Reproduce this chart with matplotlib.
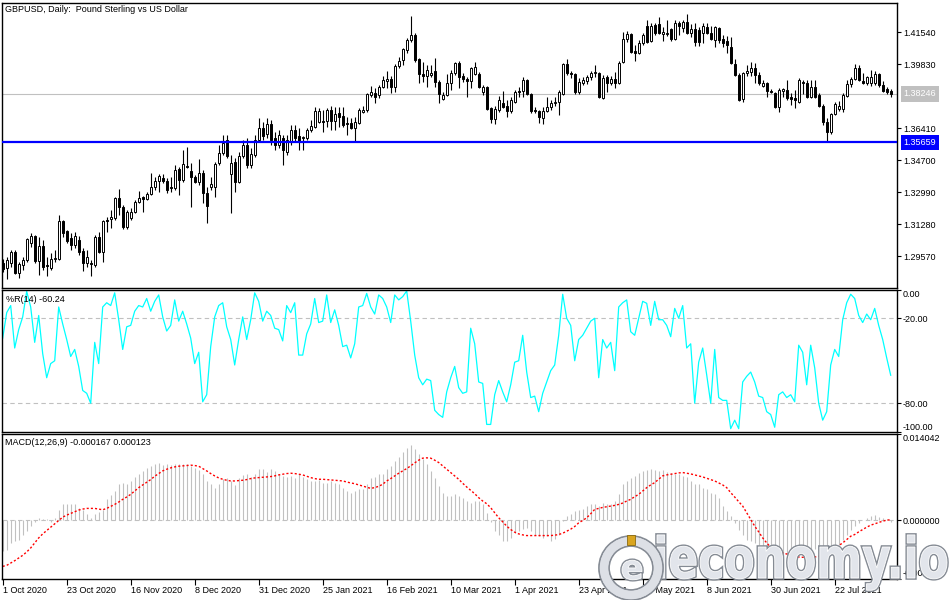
import matplotlib
matplotlib.use('Agg')
import matplotlib.pyplot as plt
import matplotlib.patheffects as pe
import numpy as np
from matplotlib.textpath import TextPath
from matplotlib.font_manager import FontProperties
from matplotlib.patches import PathPatch, Circle, Rectangle
from matplotlib.transforms import Affine2D, blended_transform_factory

# GBPUSD daily candles, 1 Oct 2020 .. 10 Aug 2021
opens = [1.2920, 1.2893, 1.2920, 1.2979, 1.2866, 1.2909, 1.2936, 1.3027, 1.3064, 1.2931,
         1.3011, 1.2909, 1.2893, 1.2941, 1.2941, 1.3145, 1.3091, 1.3054, 1.3016, 1.3043,
         1.2984, 1.2920, 1.2920, 1.2909, 1.3059, 1.2979, 1.3150, 1.3155, 1.3161, 1.3267,
         1.3219, 1.3112, 1.3161, 1.3193, 1.3246, 1.3273, 1.3262, 1.3289, 1.3326, 1.3358,
         1.3374, 1.3358, 1.3326, 1.3321, 1.3423, 1.3364, 1.3439, 1.3412, 1.3380, 1.3353,
         1.3401, 1.3294, 1.3326, 1.3326, 1.3455, 1.3508, 1.3578, 1.3396, 1.3460, 1.3353,
         1.3492, 1.3551, 1.3444, 1.3498, 1.3578, 1.3642, 1.3610, 1.3663, 1.3588, 1.3551,
         1.3588, 1.3514, 1.3567, 1.3631, 1.3599, 1.3588, 1.3588, 1.3631, 1.3647, 1.3674,
         1.3679, 1.3679, 1.3738, 1.3679, 1.3722, 1.3706, 1.3669, 1.3669, 1.3642, 1.3669,
         1.3728, 1.3738, 1.3819, 1.3829, 1.3819, 1.3861, 1.3893, 1.3904, 1.3861, 1.3974,
         1.4006, 1.4059, 1.4113, 1.4140, 1.4011, 1.3931, 1.3920, 1.3926, 1.3947, 1.3888,
         1.3797, 1.3819, 1.3883, 1.3936, 1.3990, 1.3920, 1.3904, 1.3893, 1.3931, 1.3931,
         1.3835, 1.3861, 1.3749, 1.3690, 1.3738, 1.3776, 1.3760, 1.3733, 1.3781, 1.3840,
         1.3840, 1.3899, 1.3824, 1.3738, 1.3733, 1.3695, 1.3733, 1.3754, 1.3776, 1.3781,
         1.3824, 1.3984, 1.3936, 1.3931, 1.3835, 1.3883, 1.3893, 1.3915, 1.3936, 1.3936,
         1.3802, 1.3915, 1.3883, 1.3904, 1.3883, 1.3995, 1.4118, 1.4145, 1.4054, 1.4043,
         1.4097, 1.4188, 1.4107, 1.4193, 1.4198, 1.4145, 1.4145, 1.4172, 1.4118, 1.4204,
         1.4177, 1.4209, 1.4150, 1.4172, 1.4166, 1.4150, 1.4182, 1.4150, 1.4113, 1.4177,
         1.4118, 1.4107, 1.4075, 1.3984, 1.3926, 1.3797, 1.3936, 1.3942, 1.3963, 1.3926,
         1.3867, 1.3883, 1.3840, 1.3829, 1.3754, 1.3840, 1.3845, 1.3808, 1.3802, 1.3781,
         1.3888, 1.3883, 1.3808, 1.3861, 1.3819, 1.3760, 1.3674, 1.3621, 1.3717, 1.3744,
         1.3744, 1.3813, 1.3877, 1.3904, 1.3963, 1.3893, 1.3883, 1.3883, 1.3883, 1.3931,
         1.3872, 1.3851, 1.3840]
highs = [1.2941, 1.2952, 1.2989, 1.2989, 1.2925, 1.2952, 1.3054, 1.3080, 1.3070, 1.3059,
         1.3043, 1.2952, 1.2973, 1.2989, 1.3177, 1.3150, 1.3096, 1.3080, 1.3086, 1.3064,
         1.3000, 1.2989, 1.2936, 1.3070, 1.3086, 1.3150, 1.3166, 1.3203, 1.3273, 1.3316,
         1.3230, 1.3203, 1.3214, 1.3257, 1.3305, 1.3278, 1.3300, 1.3401, 1.3380, 1.3396,
         1.3396, 1.3374, 1.3380, 1.3444, 1.3433, 1.3524, 1.3540, 1.3455, 1.3391, 1.3476,
         1.3417, 1.3326, 1.3380, 1.3460, 1.3551, 1.3605, 1.3605, 1.3498, 1.3481, 1.3514,
         1.3578, 1.3588, 1.3535, 1.3605, 1.3695, 1.3674, 1.3695, 1.3685, 1.3621, 1.3631,
         1.3605, 1.3605, 1.3658, 1.3658, 1.3642, 1.3599, 1.3642, 1.3685, 1.3754, 1.3749,
         1.3738, 1.3749, 1.3760, 1.3754, 1.3754, 1.3754, 1.3701, 1.3695, 1.3701, 1.3749,
         1.3760, 1.3829, 1.3867, 1.3856, 1.3872, 1.3920, 1.3947, 1.3920, 1.3984, 1.4022,
         1.4070, 1.4123, 1.4241, 1.4150, 1.4016, 1.3995, 1.3979, 1.3979, 1.4016, 1.3899,
         1.3835, 1.3931, 1.3952, 1.3995, 1.4000, 1.3936, 1.3915, 1.3968, 1.3995, 1.3942,
         1.3872, 1.3867, 1.3754, 1.3760, 1.3813, 1.3840, 1.3792, 1.3808, 1.3845, 1.3861,
         1.3915, 1.3904, 1.3829, 1.3754, 1.3738, 1.3754, 1.3808, 1.3792, 1.3808, 1.3845,
         1.3990, 1.4011, 1.3947, 1.3936, 1.3909, 1.3915, 1.3926, 1.3947, 1.3979, 1.3942,
         1.3926, 1.3926, 1.3920, 1.3942, 1.4000, 1.4156, 1.4161, 1.4150, 1.4086, 1.4113,
         1.4150, 1.4220, 1.4204, 1.4204, 1.4236, 1.4182, 1.4220, 1.4177, 1.4220, 1.4214,
         1.4220, 1.4252, 1.4198, 1.4204, 1.4182, 1.4204, 1.4204, 1.4188, 1.4188, 1.4182,
         1.4140, 1.4134, 1.4129, 1.4011, 1.3936, 1.3942, 1.3979, 1.3995, 1.3990, 1.3942,
         1.3899, 1.3888, 1.3851, 1.3835, 1.3856, 1.3856, 1.3899, 1.3829, 1.3845, 1.3909,
         1.3899, 1.3899, 1.3899, 1.3899, 1.3829, 1.3770, 1.3695, 1.3722, 1.3781, 1.3786,
         1.3829, 1.3899, 1.3915, 1.3984, 1.3979, 1.3936, 1.3920, 1.3952, 1.3947, 1.3936,
         1.3893, 1.3861, 1.3851]
lows = [1.2872, 1.2834, 1.2898, 1.2861, 1.2840, 1.2882, 1.2925, 1.3006, 1.2920, 1.2856,
        1.2882, 1.2850, 1.2882, 1.2925, 1.2936, 1.3059, 1.3027, 1.2989, 1.3000, 1.2963,
        1.2877, 1.2898, 1.2850, 1.2898, 1.2973, 1.2925, 1.3086, 1.3107, 1.3150, 1.3177,
        1.3102, 1.3102, 1.3150, 1.3187, 1.3241, 1.3193, 1.3257, 1.3284, 1.3310, 1.3300,
        1.3348, 1.3294, 1.3300, 1.3310, 1.3284, 1.3353, 1.3428, 1.3219, 1.3348, 1.3337,
        1.3241, 1.3134, 1.3310, 1.3273, 1.3444, 1.3498, 1.3481, 1.3187, 1.3300, 1.3348,
        1.3481, 1.3428, 1.3428, 1.3487, 1.3567, 1.3578, 1.3588, 1.3551, 1.3524, 1.3535,
        1.3444, 1.3498, 1.3551, 1.3567, 1.3524, 1.3524, 1.3578, 1.3621, 1.3642, 1.3669,
        1.3621, 1.3647, 1.3631, 1.3631, 1.3647, 1.3647, 1.3605, 1.3637, 1.3566, 1.3663,
        1.3722, 1.3728, 1.3808, 1.3776, 1.3802, 1.3856, 1.3856, 1.3829, 1.3835, 1.3963,
        1.3979, 1.4043, 1.4102, 1.3995, 1.3883, 1.3888, 1.3861, 1.3915, 1.3861, 1.3776,
        1.3792, 1.3813, 1.3845, 1.3926, 1.3856, 1.3888, 1.3808, 1.3856, 1.3926, 1.3856,
        1.3819, 1.3738, 1.3669, 1.3663, 1.3728, 1.3749, 1.3701, 1.3722, 1.3776, 1.3808,
        1.3808, 1.3819, 1.3722, 1.3722, 1.3669, 1.3663, 1.3728, 1.3738, 1.3760, 1.3712,
        1.3819, 1.3926, 1.3909, 1.3824, 1.3824, 1.3872, 1.3877, 1.3899, 1.3915, 1.3802,
        1.3797, 1.3835, 1.3872, 1.3856, 1.3877, 1.3990, 1.4102, 1.4043, 1.4000, 1.4038,
        1.4086, 1.4097, 1.4102, 1.4140, 1.4145, 1.4107, 1.4134, 1.4107, 1.4113, 1.4140,
        1.4156, 1.4145, 1.4129, 1.4081, 1.4081, 1.4097, 1.4145, 1.4113, 1.4075, 1.4097,
        1.4075, 1.4043, 1.3984, 1.3920, 1.3786, 1.3781, 1.3920, 1.3920, 1.3883, 1.3872,
        1.3861, 1.3808, 1.3829, 1.3749, 1.3728, 1.3808, 1.3792, 1.3765, 1.3749, 1.3776,
        1.3824, 1.3802, 1.3802, 1.3802, 1.3754, 1.3658, 1.3566, 1.3610, 1.3712, 1.3733,
        1.3728, 1.3808, 1.3861, 1.3899, 1.3893, 1.3877, 1.3872, 1.3867, 1.3872, 1.3861,
        1.3835, 1.3824, 1.3808]
closes = [1.2888, 1.2936, 1.2979, 1.2866, 1.2915, 1.2936, 1.3048, 1.3064, 1.2931, 1.3011,
          1.2898, 1.2904, 1.2941, 1.2947, 1.3145, 1.3080, 1.3038, 1.3016, 1.3064, 1.2979,
          1.2920, 1.2952, 1.2915, 1.3059, 1.2979, 1.3145, 1.3145, 1.3166, 1.3267, 1.3219,
          1.3112, 1.3193, 1.3193, 1.3246, 1.3267, 1.3262, 1.3289, 1.3326, 1.3358, 1.3385,
          1.3358, 1.3310, 1.3321, 1.3417, 1.3364, 1.3449, 1.3433, 1.3380, 1.3353, 1.3401,
          1.3294, 1.3225, 1.3342, 1.3449, 1.3508, 1.3562, 1.3492, 1.3455, 1.3353, 1.3492,
          1.3551, 1.3444, 1.3503, 1.3578, 1.3642, 1.3599, 1.3663, 1.3578, 1.3551, 1.3605,
          1.3524, 1.3578, 1.3631, 1.3588, 1.3567, 1.3594, 1.3631, 1.3653, 1.3733, 1.3733,
          1.3674, 1.3738, 1.3679, 1.3717, 1.3701, 1.3658, 1.3663, 1.3642, 1.3674, 1.3738,
          1.3738, 1.3824, 1.3835, 1.3808, 1.3861, 1.3899, 1.3904, 1.3861, 1.3974, 1.4000,
          1.4065, 1.4113, 1.4140, 1.4006, 1.3931, 1.3920, 1.3952, 1.3936, 1.3888, 1.3824,
          1.3819, 1.3883, 1.3936, 1.3990, 1.3915, 1.3904, 1.3893, 1.3963, 1.3968, 1.3861,
          1.3861, 1.3744, 1.3690, 1.3744, 1.3792, 1.3754, 1.3733, 1.3792, 1.3835, 1.3835,
          1.3899, 1.3824, 1.3733, 1.3733, 1.3701, 1.3733, 1.3754, 1.3776, 1.3781, 1.3835,
          1.3984, 1.3936, 1.3931, 1.3835, 1.3888, 1.3899, 1.3915, 1.3936, 1.3942, 1.3808,
          1.3909, 1.3883, 1.3904, 1.3883, 1.3990, 1.4118, 1.4145, 1.4049, 1.4043, 1.4097,
          1.4140, 1.4102, 1.4188, 1.4150, 1.4150, 1.4156, 1.4150, 1.4118, 1.4204, 1.4188,
          1.4209, 1.4150, 1.4172, 1.4102, 1.4102, 1.4188, 1.4150, 1.4118, 1.4182, 1.4113,
          1.4097, 1.4086, 1.3990, 1.3926, 1.3792, 1.3936, 1.3947, 1.3963, 1.3926, 1.3883,
          1.3883, 1.3840, 1.3835, 1.3754, 1.3845, 1.3851, 1.3802, 1.3797, 1.3792, 1.3899,
          1.3883, 1.3808, 1.3861, 1.3808, 1.3760, 1.3674, 1.3621, 1.3717, 1.3770, 1.3760,
          1.3819, 1.3877, 1.3904, 1.3963, 1.3899, 1.3883, 1.3915, 1.3915, 1.3931, 1.3872,
          1.3840, 1.3835, 1.38246]

# Williams %R(14)
wpr = [-34, -16, -11, -41, -28, -19, -1, -12, -37, -18,
       -45, -62, -52, -50, -12, -24, -35, -47, -42, -54,
       -71, -73, -80, -37, -52, -12, -9, -11, -2, -21,
       -42, -26, -25, -15, -11, -12, -6, -15, -8, -3.5,
       -19, -29, -25, -7, -22, -15, -24, -34, -52, -44,
       -79, -74, -40, -19, -11, -9, -26, -35, -53, -35,
       -19, -35, -21, -2, -8, -22, -15, -18, -27, -28,
       -36, -11, -16, -9, -46, -46, -31, -24, -6, -23,
       -22, -3.5, -23, -14, -25, -40, -39, -48, -38, -12,
       -11, -2.4, -12, -17, -3.5, -6, -12, -23, -3.5, -7,
       -4.7, -0.7, -22, -46, -62, -67, -63, -64, -85, -88,
       -90, -72, -62, -54, -69, -73, -72, -27, -38, -65,
       -66, -95, -95, -74, -64, -72, -79, -67, -51, -50,
       -32, -58, -76, -75, -86, -73, -65, -57, -53, -32,
       -3, -20, -25, -50, -35, -32, -27, -22, -20, -62,
       -35, -41, -37, -57, -12, -9, -7, -29.5, -32, -20,
       -8, -9.4, -25, -8, -21, -21, -25, -33, -13, -20,
       -11, -41, -38, -80, -51, -41, -60, -80, -42, -76,
       -78, -78, -98, -92, -98, -65, -61, -58, -65, -75,
       -76, -86, -88, -97, -74, -72, -76, -74, -79, -39,
       -44, -67, -39, -55, -80, -92, -86, -53, -42, -47,
       -21, -9, -3, -6, -18, -23, -17, -21, -13, -25,
       -35, -48, -60.24]

# MACD(12,26,9): main (histogram) and signal
macd_main = [-0.00500, -0.00473, -0.00364, -0.00337, -0.00310, -0.00228, -0.00174, -0.00092, -0.00022, 0.00044,
             0.00016, 0.00016, -0.00022, 0.00033, 0.00163, 0.00261, 0.00272, 0.00261, 0.00272, 0.00196,
             0.00163, 0.00109, 0.00044, 0.00098, 0.00141, 0.00163, 0.00343, 0.00413, 0.00479, 0.00588,
             0.00615, 0.00588, 0.00642, 0.00713, 0.00751, 0.00805, 0.00860, 0.00887, 0.00925, 0.00941,
             0.00903, 0.00914, 0.00903, 0.00925, 0.00914, 0.00925, 0.00914, 0.00881, 0.00860, 0.00816,
             0.00751, 0.00642, 0.00588, 0.00522, 0.00598, 0.00669, 0.00696, 0.00642, 0.00577, 0.00685,
             0.00740, 0.00762, 0.00707, 0.00762, 0.00832, 0.00843, 0.00794, 0.00832, 0.00805, 0.00762,
             0.00724, 0.00707, 0.00729, 0.00696, 0.00751, 0.00707, 0.00669, 0.00642, 0.00642, 0.00653,
             0.00615, 0.00615, 0.00642, 0.00615, 0.00588, 0.00533, 0.00479, 0.00452, 0.00479, 0.00506,
             0.00506, 0.00588, 0.00696, 0.00707, 0.00751, 0.00762, 0.00832, 0.00887, 0.00968, 0.01023,
             0.01104, 0.01175, 0.01229, 0.01159, 0.01077, 0.00996, 0.00914, 0.00805, 0.00696, 0.00560,
             0.00452, 0.00397, 0.00397, 0.00424, 0.00397, 0.00370, 0.00316, 0.00288, 0.00316, 0.00316,
             0.00261, 0.00125, -0.00022, -0.00174, -0.00228, -0.00337, -0.00326, -0.00283, -0.00201, -0.00174,
             -0.00131, -0.00120, -0.00174, -0.00228, -0.00256, -0.00283, -0.00256, -0.00326, -0.00294, -0.00228,
             -0.00011, 0.00071, 0.00098, 0.00152, 0.00163, 0.00180, 0.00234, 0.00261, 0.00261, 0.00234,
             0.00288, 0.00261, 0.00261, 0.00316, 0.00424, 0.00588, 0.00642, 0.00696, 0.00724, 0.00778,
             0.00805, 0.00816, 0.00832, 0.00816, 0.00805, 0.00816, 0.00794, 0.00778, 0.00751, 0.00751,
             0.00724, 0.00707, 0.00642, 0.00588, 0.00588, 0.00533, 0.00506, 0.00452, 0.00424, 0.00370,
             0.00234, 0.00152, 0.00071, -0.00038, -0.00147, -0.00228, -0.00310, -0.00337, -0.00364, -0.00392,
             -0.00419, -0.00392, -0.00446, -0.00500, -0.00528, -0.00555, -0.00582, -0.00582, -0.00555, -0.00528,
             -0.00528, -0.00500, -0.00473, -0.00457, -0.00446, -0.00473, -0.00500, -0.00490, -0.00446, -0.00392,
             -0.00310, -0.00228, -0.00147, -0.00092, -0.00038, 0.00000, 0.00044, 0.00071, 0.00087, 0.00054,
             0.00033, 0.00016, -0.000167]
macd_signal = [-0.00745, -0.00729, -0.00691, -0.00653, -0.00609, -0.00566, -0.00511, -0.00446, -0.00364, -0.00283,
               -0.00218, -0.00163, -0.00109, -0.00054, 0.00000, 0.00054, 0.00087, 0.00114, 0.00141, 0.00169,
               0.00185, 0.00196, 0.00196, 0.00196, 0.00185, 0.00174, 0.00196, 0.00228, 0.00261, 0.00299,
               0.00343, 0.00381, 0.00424, 0.00479, 0.00533, 0.00577, 0.00620, 0.00664, 0.00718, 0.00762,
               0.00805, 0.00832, 0.00854, 0.00870, 0.00881, 0.00887, 0.00892, 0.00898, 0.00892, 0.00881,
               0.00843, 0.00805, 0.00762, 0.00724, 0.00691, 0.00669, 0.00653, 0.00642, 0.00642, 0.00647,
               0.00653, 0.00664, 0.00680, 0.00691, 0.00696, 0.00702, 0.00707, 0.00713, 0.00724, 0.00740,
               0.00751, 0.00762, 0.00767, 0.00762, 0.00751, 0.00740, 0.00718, 0.00696, 0.00680, 0.00669,
               0.00669, 0.00664, 0.00658, 0.00653, 0.00647, 0.00642, 0.00626, 0.00609, 0.00598, 0.00577,
               0.00560, 0.00539, 0.00522, 0.00533, 0.00555, 0.00588, 0.00642, 0.00680, 0.00724, 0.00767,
               0.00805, 0.00843, 0.00887, 0.00936, 0.00979, 0.01012, 0.01017, 0.01012, 0.00979, 0.00941,
               0.00887, 0.00832, 0.00778, 0.00724, 0.00669, 0.00604, 0.00544, 0.00490, 0.00435, 0.00370,
               0.00316, 0.00272, 0.00207, 0.00125, 0.00044, -0.00022, -0.00092, -0.00147, -0.00190, -0.00218,
               -0.00234, -0.00245, -0.00245, -0.00245, -0.00245, -0.00245, -0.00245, -0.00245, -0.00239, -0.00228,
               -0.00207, -0.00174, -0.00141, -0.00098, -0.00038, 0.00000, 0.00044, 0.00109, 0.00180, 0.00196,
               0.00212, 0.00223, 0.00234, 0.00245, 0.00261, 0.00283, 0.00316, 0.00343, 0.00386, 0.00424,
               0.00479, 0.00533, 0.00577, 0.00615, 0.00669, 0.00724, 0.00740, 0.00751, 0.00762, 0.00772,
               0.00778, 0.00767, 0.00756, 0.00740, 0.00724, 0.00707, 0.00685, 0.00664, 0.00642, 0.00609,
               0.00577, 0.00533, 0.00452, 0.00381, 0.00305, 0.00234, 0.00125, 0.00016, -0.00092, -0.00185,
               -0.00283, -0.00364, -0.00435, -0.00484, -0.00511, -0.00528, -0.00544, -0.00566, -0.00582, -0.00593,
               -0.00598, -0.00598, -0.00598, -0.00593, -0.00582, -0.00566, -0.00544, -0.00500, -0.00446, -0.00408,
               -0.00364, -0.00310, -0.00256, -0.00228, -0.00185, -0.00147, -0.00109, -0.00076, -0.00054, -0.00033,
               -0.00011, 0.00005, 0.000123]

date_labels = ['1 Oct 2020', '23 Oct 2020', '16 Nov 2020', '8 Dec 2020', '31 Dec 2020',
               '25 Jan 2021', '16 Feb 2021', '10 Mar 2021', '1 Apr 2021', '23 Apr 2021',
               '17 May 2021', '8 Jun 2021', '30 Jun 2021', '22 Jul 2021']
bars_per_label = 16

price_ticks = [1.41540, 1.39830, 1.36410, 1.34700, 1.32990, 1.31280, 1.29570]
last_price = 1.38246
level_price = 1.35659
wpr_ticks = [0, -20, -80, -100]
macd_ticks = [0.014042, 0.0, -0.009421]

W, H = 950, 600


def panel(fig, x0, y0, x1, y1):
    # box given in image pixels (origin top-left)
    return fig.add_axes([x0 / W, 1 - y1 / H, (x1 - x0) / W, (y1 - y0) / H])


plt.rcParams['font.family'] = ['Liberation Sans', 'DejaVu Sans']
plt.rcParams['font.size'] = 6.5

fig = plt.figure(figsize=(W / 100, H / 100), dpi=100)
fig.patch.set_facecolor('white')

ax_p = panel(fig, 2, 3, 897, 287.5)
ax_r = panel(fig, 2, 290, 897, 431.5)
ax_m = panel(fig, 2, 434, 897, 578.5)

n = len(closes)
x = np.arange(n)
for ax in (ax_p, ax_r, ax_m):
    ax.set_xlim(-0.175, n + 0.575)
    ax.yaxis.tick_right()
    ax.tick_params(axis='y', direction='out', length=3, width=0.8, pad=1.2,
                   labelsize=6.5, colors='black')
    for s in ax.spines.values():
        s.set_linewidth(1.0)
        s.set_color('black')
for ax in (ax_p, ax_r):
    ax.tick_params(axis='x', bottom=False, labelbottom=False)

# --- price panel ---
o = np.array(opens)
c = np.array(closes)
up = c >= o
ax_p.axhline(last_price, color='#c0c0c0', lw=0.8, zorder=1)
ax_p.vlines(x, lows, highs, color='black', lw=0.8, zorder=3)
ax_p.bar(x, np.abs(c - o), bottom=np.minimum(o, c), width=0.5,
         color=np.where(up, 'white', 'black'), edgecolor='black', linewidth=0.7, zorder=4)
ax_p.axhline(level_price, color='#0000ff', lw=1.6, zorder=5)
ax_p.set_ylim(1.27887, 1.43108)
ax_p.set_yticks(price_ticks)
ax_p.set_yticklabels([f'{v:.5f}' for v in price_ticks])

tr = blended_transform_factory(ax_p.transAxes, ax_p.transData)
ax_p.text(1.0075, last_price, f'{last_price:.5f}', transform=tr, color='white', va='center', ha='left',
          fontsize=6.5, bbox=dict(boxstyle='square,pad=0.35', fc='#c0c0c0', ec='none'), clip_on=False)
ax_p.text(1.0075, level_price, f'{level_price:.5f}', transform=tr, color='white', va='center', ha='left',
          fontsize=6.5, bbox=dict(boxstyle='square,pad=0.35', fc='#0000ff', ec='none'), clip_on=False)

# --- Williams %R panel ---
ax_r.axhline(-20, color='#c0c0c0', lw=0.8, ls=(0, (4, 3)))
ax_r.axhline(-80, color='#c0c0c0', lw=0.8, ls=(0, (4, 3)))
ax_r.plot(x, wpr, color='#00ffff', lw=0.9)
ax_r.set_ylim(-100, 0)
ax_r.set_yticks(wpr_ticks)
ax_r.set_yticklabels([f'{v:.2f}' for v in wpr_ticks])
lbl = ax_r.get_yticklabels()
lbl[0].set_va('top')
lbl[-1].set_va('bottom')

# --- MACD panel ---
ax_m.axhline(0, color='#c0c0c0', lw=0.8, ls=(0, (4, 3)))
ax_m.vlines(x, 0, macd_main, color='#c0c0c0', lw=0.8)
ax_m.plot(x, macd_signal, color='#ff0000', lw=1.0, ls=(0, (1.5, 1.5)))
ax_m.set_ylim(macd_ticks[-1], macd_ticks[0])
ax_m.set_yticks(macd_ticks)
ax_m.set_yticklabels([f'{v:.6f}' for v in macd_ticks])
lbl = ax_m.get_yticklabels()
lbl[0].set_va('top')
lbl[-1].set_va('bottom')

ax_m.set_xticks(np.arange(len(date_labels)) * bars_per_label)
ax_m.set_xticklabels(date_labels, ha='left')
ax_m.tick_params(axis='x', direction='out', length=4, width=0.8, pad=1.5, labelsize=6.5)

# panel captions
fig.text(5 / W, 1 - 5 / H, 'GBPUSD, Daily:  Pound Sterling vs US Dollar', va='top', ha='left', fontsize=6.5)
fig.text(6 / W, 1 - 295 / H, '%R(14) -60.24', va='top', ha='left', fontsize=6.5)
fig.text(5 / W, 1 - 438 / H, 'MACD(12,26,9) -0.000167 0.000123', va='top', ha='left', fontsize=6.5)

# --- watermark ---
wm = fig.add_axes([0, 0, 1, 1], zorder=10)
wm.set_xlim(0, W)
wm.set_ylim(H, 0)
wm.axis('off')
wm.patch.set_alpha(0)

fp = FontProperties(family='DejaVu Sans', weight='bold')
word = TextPath((0, 0), 'ieconomy.io', size=1, prop=fp)
xh = TextPath((0, 0), 'x', size=1, prop=fp).get_extents().height
ext = word.get_extents()
t = Affine2D().translate(-ext.x0, 0).scale(290 / ext.width, -31 / xh).translate(657, 578)
shine = [pe.withStroke(linewidth=2.6, foreground='#858b94')]
wm.add_patch(PathPatch(t.transform_path(word), fc='#e2e5eb', ec='white', lw=0.6, path_effects=shine))

wm.add_patch(Circle((631, 568), 27, fill=False, lw=6, ec='#dde0e6',
                    path_effects=[pe.withStroke(linewidth=8.5, foreground='#858b94'), pe.Normal()]))
e_path = TextPath((0, 0), 'e', size=1, prop=fp)
ee = e_path.get_extents()
te = Affine2D().translate(-(ee.x0 + ee.x1) / 2, -(ee.y0 + ee.y1) / 2).scale(34, -34).translate(632, 570)
wm.add_patch(PathPatch(te.transform_path(e_path), fc='#e2e5eb', ec='white', lw=0.6, path_effects=shine))
wm.add_patch(Rectangle((627, 535), 8, 10, fc='#d9a520', ec='#8a6a10', lw=0.6))

fig.savefig('out.png', dpi=100)
